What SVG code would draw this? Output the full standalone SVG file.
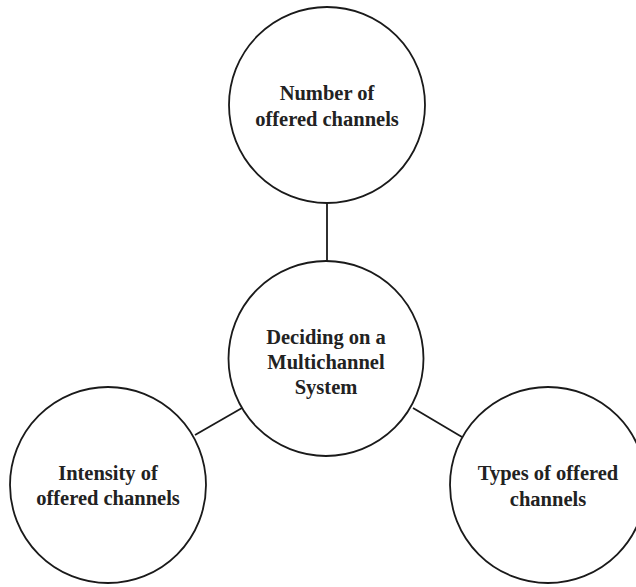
<svg xmlns="http://www.w3.org/2000/svg" width="636" height="587" viewBox="0 0 636 587">
  <style>
    .node circle { fill: #ffffff; stroke: #1a1a1a; stroke-width: 1.8; }
    .node text { font-family: "Liberation Serif", "Times New Roman", serif; font-weight: bold; font-size: 20.5px; fill: #222222; text-anchor: middle; }
    .links line { stroke: #1a1a1a; stroke-width: 1.8; }
  </style>
  <rect width="636" height="587" fill="#ffffff"/>
  <g class="links">
    <line x1="327" y1="203" x2="327" y2="261"/>
    <line x1="195" y1="435" x2="242" y2="408"/>
    <line x1="413" y1="408" x2="462" y2="437"/>
  </g>
  <g id="number" class="node">
    <circle cx="327" cy="105" r="98"/>
    <text x="327" y="100">Number of</text>
    <text x="327" y="126">offered channels</text>
  </g>
  <g id="deciding" class="node">
    <circle cx="326" cy="358.5" r="97.5"/>
    <text x="326" y="344">Deciding on a</text>
    <text x="326" y="369">Multichannel</text>
    <text x="326" y="394">System</text>
  </g>
  <g id="intensity" class="node">
    <circle cx="108" cy="485" r="98"/>
    <text x="108" y="480">Intensity of</text>
    <text x="108" y="505">offered channels</text>
  </g>
  <g id="types" class="node">
    <circle cx="548" cy="485" r="98"/>
    <text x="548" y="480">Types of offered</text>
    <text x="548" y="506">channels</text>
  </g>
</svg>
